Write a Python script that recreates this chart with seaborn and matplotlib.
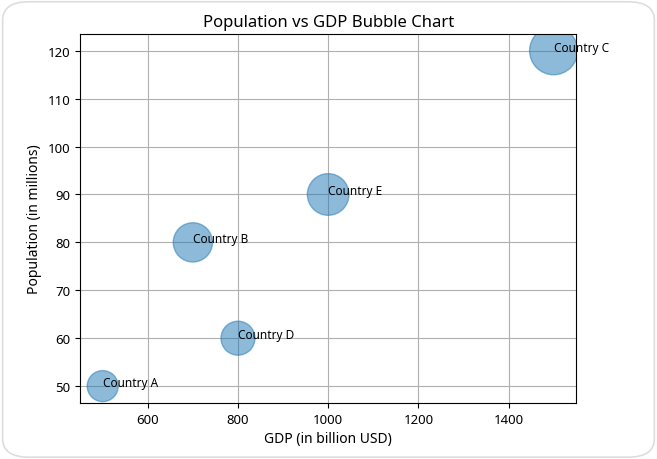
import numpy as np
import pandas as pd
import seaborn as sns
import matplotlib.pyplot as plt
from matplotlib.patches import FancyBboxPatch

countries = ["Country A", "Country B", "Country C", "Country D", "Country E"]
gdp = [500, 700, 1500, 800, 1000]
population = [50, 80, 120, 60, 90]

df = pd.DataFrame({"Country": countries, "GDP": gdp, "Population": population})

plt.rcParams['font.family'] = ['Noto Sans', 'DejaVu Sans']

fig = plt.figure(figsize=(6.57, 4.6), dpi=100)
# rounded frame round the figure
fig.patches.append(FancyBboxPatch((0.004, 0.004), 0.992, 0.99,
                                  boxstyle="round,pad=0,rounding_size=0.04",
                                  transform=fig.transFigure, facecolor="white",
                                  edgecolor="#dddddd", linewidth=1.2, zorder=-1))
fig.patch.set_alpha(0)
ax = fig.add_axes([0.122, 0.122, 0.755, 0.802])

sns.scatterplot(data=df, x="GDP", y="Population", size="Population",
                sizes=(500, 1200), size_norm=(50, 120), color="C0",
                edgecolor="face", linewidth=1, alpha=0.5, legend=False, ax=ax)

for name, x, y in zip(countries, gdp, population):
    ax.text(x, y, name, fontsize=8.5)

ax.set_axisbelow(True)
ax.grid(True, color="#b0b0b0", linewidth=0.8)
ax.set_title("Population vs GDP Bubble Chart", fontsize=12)
ax.set_xlabel("GDP (in billion USD)", fontsize=10)
ax.set_ylabel("Population (in millions)", fontsize=10)
ax.tick_params(labelsize=9.5)

fig.savefig("out.png", dpi=100, facecolor="white")
